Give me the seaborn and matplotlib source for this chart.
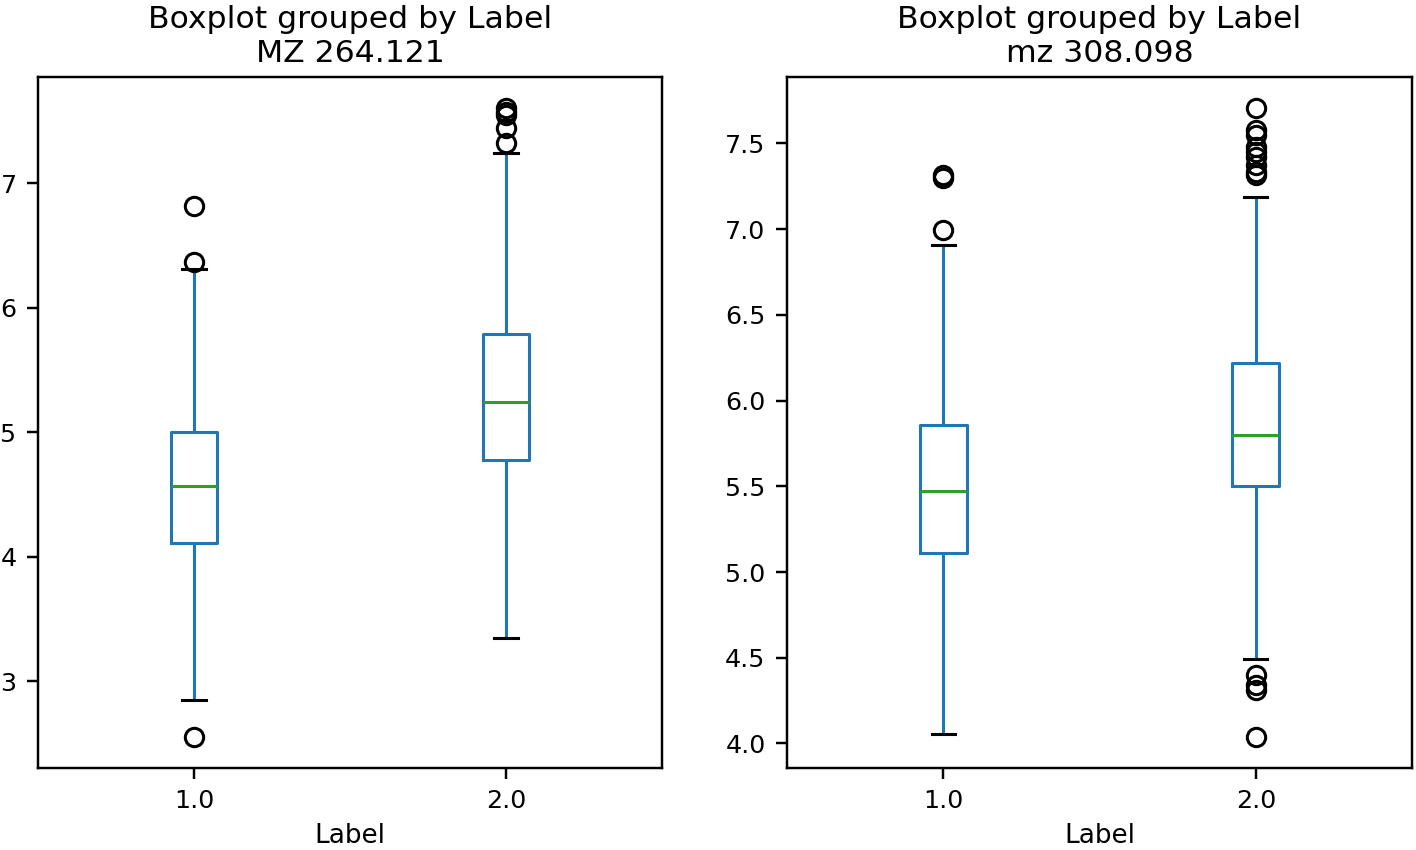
import numpy as np
import pandas as pd
import matplotlib
matplotlib.use("Agg")
import matplotlib.pyplot as plt
import seaborn as sns

# ── Values (per Label group: 1.0, 2.0) ────────────────────────────────────────

labels = [1.0, 2.0]

# MZ 264.121
mz264_whislo = [2.85, 3.35]
mz264_q1     = [4.11, 4.78]
mz264_med    = [4.57, 5.245]
mz264_q3     = [5.00, 5.79]
mz264_whishi = [6.31, 7.24]
mz264_fliers = [[2.555, 6.37, 6.82],
                [7.32, 7.44, 7.55, 7.575, 7.60]]

# mz 308.098
mz308_whislo = [4.056, 4.493]
mz308_q1     = [5.11, 5.50]
mz308_med    = [5.472, 5.80]
mz308_q3     = [5.857, 6.22]
mz308_whishi = [6.91, 7.19]
mz308_fliers = [[6.993, 7.30, 7.314],
                [4.04, 4.31, 4.34, 4.40,
                 7.315, 7.331, 7.372, 7.418, 7.448, 7.477, 7.547, 7.576, 7.704]]


def group_values(lo, q1, med, q3, hi, fliers, n=40):
    # sample whose quartiles / whiskers reproduce the stats read above
    return sorted(fliers + [lo] + [q1] * n + [med] * n + [q3] * n + [hi])


def make_frame(whislo, q1, med, q3, whishi, fliers):
    rows = []
    for i, lab in enumerate(labels):
        for v in group_values(whislo[i], q1[i], med[i], q3[i], whishi[i], fliers[i]):
            rows.append({'Label': lab, 'value': v})
    return pd.DataFrame(rows)


df264 = make_frame(mz264_whislo, mz264_q1, mz264_med, mz264_q3, mz264_whishi, mz264_fliers)
df308 = make_frame(mz308_whislo, mz308_q1, mz308_med, mz308_q3, mz308_whishi, mz308_fliers)

# ── Figure ────────────────────────────────────────────────────────────────────

DPI = 220
fig = plt.figure(figsize=(1416 / DPI, 850 / DPI), dpi=DPI)
ax1 = fig.add_axes([38 / 1416, 1 - 768 / 850, 624 / 1416, 691 / 850])
ax2 = fig.add_axes([787 / 1416, 1 - 768 / 850, 625 / 1416, 691 / 850])

blue  = '#1f77b4'
green = '#2ca02c'

for ax, df, title in [
    (ax1, df264, 'Boxplot grouped by Label\nMZ 264.121'),
    (ax2, df308, 'Boxplot grouped by Label\nmz 308.098'),
]:
    sns.boxplot(data=df, x='Label', y='value', ax=ax, width=0.15, fill=False,
                whis=1.5, linewidth=1.0, color=blue,
                boxprops={'color': blue},
                whiskerprops={'color': blue},
                medianprops={'color': green},
                capprops={'color': 'black'},
                flierprops={'marker': 'o', 'markerfacecolor': 'none',
                            'markeredgecolor': 'black', 'markersize': 6})
    ax.set_title(title, fontsize=10.3, pad=5)
    ax.set_xlabel('Label', fontsize=8.6, labelpad=3)
    ax.set_ylabel('')
    ax.set_xlim(-0.5, 1.5)
    ax.tick_params(labelsize=8.3)

ax1.set_yticks([3, 4, 5, 6, 7])
ax2.set_yticks([4.0, 4.5, 5.0, 5.5, 6.0, 6.5, 7.0, 7.5])
ax2.set_yticklabels(['4.0', '4.5', '5.0', '5.5', '6.0', '6.5', '7.0', '7.5'])

plt.savefig('out.png', dpi=DPI)
plt.close()
